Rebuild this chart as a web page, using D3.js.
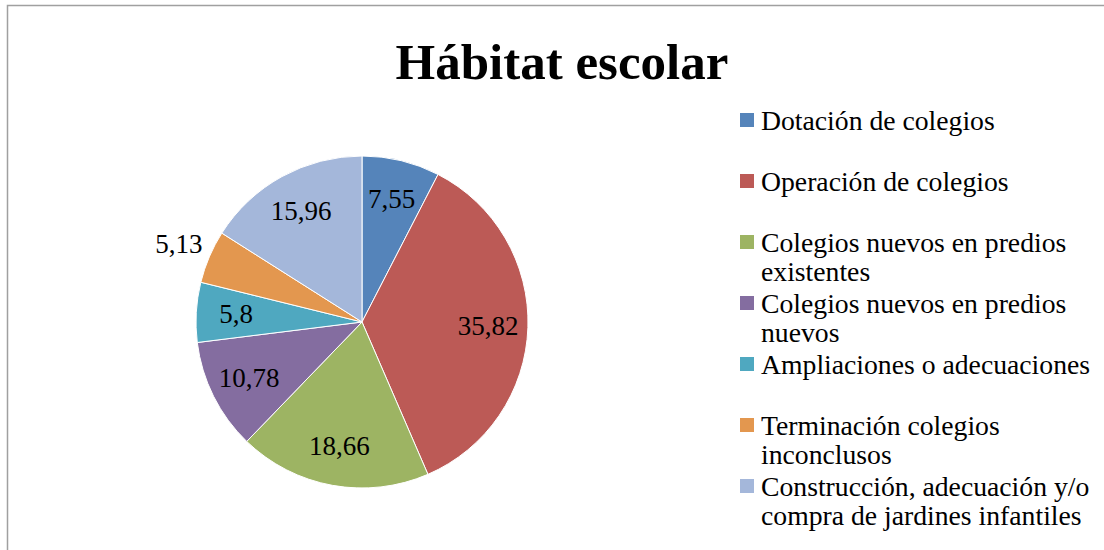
<!DOCTYPE html>
<html>
<head>
<meta charset="utf-8">
<script src="https://cdn.jsdelivr.net/npm/d3@7"></script>
<style>
  html, body { margin: 0; padding: 0; background: #fff; }
  svg { display: block; }
  text { font-family: "Liberation Serif", "DejaVu Serif", serif; fill: #000; }
</style>
</head>
<body>
<svg></svg>
<script>
var categories = [
  'Dotación de colegios',
  'Operación de colegios',
  'Colegios nuevos en predios existentes',
  'Colegios nuevos en predios nuevos',
  'Ampliaciones o adecuaciones',
  'Terminación colegios inconclusos',
  'Construcción, adecuación y/o compra de jardines infantiles'
];
var values = [7.55, 35.82, 18.66, 10.78, 5.8, 5.13, 15.96];
var valueLabels = ['7,55', '35,82', '18,66', '10,78', '5,8', '5,13', '15,96'];

var colors = ['#5584BA', '#BC5A56', '#9DB463', '#846DA0', '#4FA8C0', '#E3974F', '#A4B7DA'];

var width = 1104, height = 550;
var svg = d3.select('svg').attr('width', width).attr('height', height);

// chart border (runs off the right and bottom edge)
svg.append('rect')
  .attr('x', 7.5).attr('y', 5.5)
  .attr('width', width + 20).attr('height', height + 20)
  .attr('fill', 'none')
  .attr('stroke', '#a0a0a0')
  .attr('stroke-width', 1.5);

svg.append('text')
  .attr('x', 562).attr('y', 79)
  .attr('text-anchor', 'middle')
  .style('font-size', '51px')
  .style('font-weight', 'bold')
  .text('Hábitat escolar');

var cx = 362, cy = 322, radius = 166;
var g = svg.append('g').attr('transform', 'translate(' + cx + ',' + cy + ')');

var pie = d3.pie().sort(null).value(function(d) { return d; });
var arcs = pie(values);

var arc = d3.arc().innerRadius(0).outerRadius(radius);

g.selectAll('path.slice')
  .data(arcs)
  .enter()
  .append('path')
  .attr('class', 'slice')
  .attr('d', arc)
  .attr('fill', function(d, i) { return colors[i]; })
  .attr('stroke', '#fff')
  .attr('stroke-width', 1);

// small slices get their label outside the pie
var inArc = d3.arc().innerRadius(radius * 0.76).outerRadius(radius * 0.76);
var outArc = d3.arc().innerRadius(radius * 1.2).outerRadius(radius * 1.2);

g.selectAll('text.val')
  .data(arcs)
  .enter()
  .append('text')
  .attr('class', 'val')
  .attr('text-anchor', 'middle')
  .attr('dy', '0.33em')
  .style('font-size', '27px')
  .attr('transform', function(d) {
    var c = (d.data < 5.5 ? outArc : inArc).centroid(d);
    return 'translate(' + c[0] + ',' + c[1] + ')';
  })
  .text(function(d, i) { return valueLabels[i]; });

// legend
var legend = svg.append('g').attr('transform', 'translate(740,120)');
var maxW = 345;

var items = legend.selectAll('g.item')
  .data(categories)
  .enter()
  .append('g')
  .attr('class', 'item')
  .attr('transform', function(d, i) { return 'translate(0,' + (i * 61) + ')'; });

items.append('rect')
  .attr('x', 0).attr('y', -7)
  .attr('width', 14).attr('height', 14)
  .attr('fill', function(d, i) { return colors[i]; });

items.each(function(d) {
  var t = d3.select(this).append('text')
    .attr('x', 21).attr('y', 10)
    .style('font-size', '27.7px');
  var words = d.split(' '), line = [];
  var tspan = t.append('tspan').attr('x', 21).attr('dy', 0);
  words.forEach(function(w) {
    line.push(w);
    tspan.text(line.join(' '));
    if (tspan.node().getComputedTextLength() > maxW && line.length > 1) {
      line.pop();
      tspan.text(line.join(' '));
      line = [w];
      tspan = t.append('tspan').attr('x', 21).attr('dy', 29).text(w);
    }
  });
});
</script>
</body>
</html>
